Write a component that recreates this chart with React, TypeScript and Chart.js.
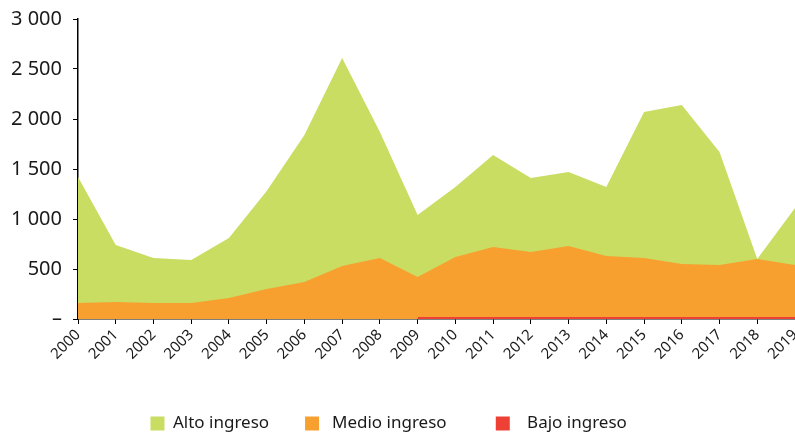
import React, { useEffect, useRef } from "react";
import { Chart, registerables } from "chart.js";

Chart.register(...registerables);

const years = ["2000","2001","2002","2003","2004","2005","2006","2007","2008","2009","2010","2011","2012","2013","2014","2015","2016","2017","2018","2019"];
// Values per income group (stacked)
const bajo = [null,null,null,null,null,null,null,null,null,20,20,20,20,20,20,20,20,20,20,20];
const medio = [160,170,160,160,210,300,370,530,610,400,600,700,650,710,610,590,530,520,580,520];
const alto = [1260,570,450,430,600,980,1470,2080,1260,620,700,920,740,740,690,1460,1590,1130,0,570];
const yTicks = [0, 500, 1000, 1500, 2000, 2500, 3000];
const legendText: Record<string, string> = {
  "Alto ingreso": "Alto ingreso       ",
  "Medio ingreso": " Medio ingreso          ",
  "Bajo ingreso": "  Bajo ingreso    ",
};

const GREEN = "#C9DD62";
const ORANGE = "#F7A030";
const RED = "#EF4036";

function fmt(v: number): string {
  if (v === 0) return "–";
  const s = String(v);
  return s.length > 3 ? s.slice(0, s.length - 3) + " " + s.slice(-3) : s;
}

export default function App() {
  const ref = useRef<HTMLCanvasElement | null>(null);
  useEffect(() => {
    if (!ref.current) return;
    const chart = new Chart(ref.current, {
      type: "line",
      data: {
        labels: years,
        datasets: [
          { label: "Bajo ingreso", data: bajo, backgroundColor: RED, borderColor: RED, borderWidth: 0, fill: "origin", pointRadius: 0 },
          { label: "Medio ingreso", data: medio, backgroundColor: ORANGE, borderColor: ORANGE, borderWidth: 0, fill: "origin", pointRadius: 0 },
          { label: "Alto ingreso", data: alto, backgroundColor: GREEN, borderColor: GREEN, borderWidth: 0, fill: "origin", pointRadius: 0 },
        ],
      },
      options: {
        animation: false,
        responsive: true,
        maintainAspectRatio: false,
        layout: { padding: { top: 19, right: 0, left: 0, bottom: -8 } },
        plugins: {
          tooltip: { enabled: false },
          legend: {
            position: "bottom",
            reverse: true,
            labels: {
              boxWidth: 14,
              boxHeight: 14,
              padding: 5,
              color: "#1a1a1a",
              font: { family: "'Noto Sans'", size: 17 },
              generateLabels: (c: any) => {
                const items = Chart.defaults.plugins.legend.labels.generateLabels(c);
                return items.map((it: any) => ({ ...it, lineWidth: 0, text: legendText[it.text] ?? it.text }));
              },
            },
          },
        },
        scales: {
          x: {
            offset: false,
            grid: { drawOnChartArea: false, drawTicks: true, tickLength: 5, color: "#000", lineWidth: 1 },
            border: { color: "#000", width: 1.5 },
            ticks: {
              autoSkip: false,
              maxRotation: 45,
              minRotation: 45,
              padding: 2,
              color: "#1a1a1a",
              font: { family: "'Noto Sans'", size: 15 },
            },
            afterFit: (s: any) => { s.height = 91; s.paddingRight = 0; s.paddingLeft = 0; },
          },
          y: {
            stacked: true,
            min: 0,
            max: 3000,
            afterBuildTicks: (s: any) => { s.ticks = yTicks.map((v) => ({ value: v })); },
            grid: { drawOnChartArea: false, drawTicks: true, tickLength: 5, color: "#000" },
            border: { color: "#000", width: 1.5 },
            ticks: {
              padding: 11,
              color: "#1a1a1a",
              font: { family: "'Noto Sans'", size: 20 },
              callback: (v: any) => fmt(Number(v)),
            },
            afterFit: (s: any) => { s.width = 78; s.paddingTop = 0; s.paddingBottom = 0; },
          },
        },
      },
    });
    return () => chart.destroy();
  }, []);
  return (
    <div style={{ position: "fixed", left: 0, top: 0, width: 795, height: 434 }}>
      <canvas ref={ref} />
    </div>
  );
}
